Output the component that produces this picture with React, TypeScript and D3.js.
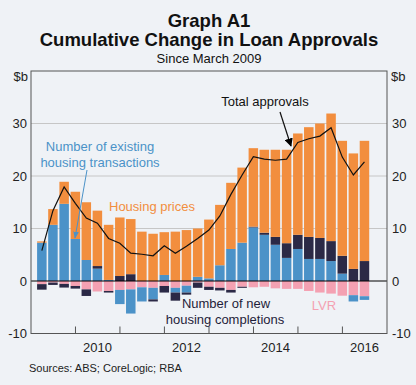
import React from 'react';
import * as d3 from 'd3';

// quarter ends, March 2009 to June 2016
const quarters = [
  '2009-03', '2009-06', '2009-09', '2009-12',
  '2010-03', '2010-06', '2010-09', '2010-12',
  '2011-03', '2011-06', '2011-09', '2011-12',
  '2012-03', '2012-06', '2012-09', '2012-12',
  '2013-03', '2013-06', '2013-09', '2013-12',
  '2014-03', '2014-06', '2014-09', '2014-12',
  '2015-03', '2015-06', '2015-09', '2015-12',
  '2016-03', '2016-06',
];

const existingTransactions = [7.3, 10.7, 14.7, 8.0, 4.0, 2.35, 0.2, -2.7, -4.6, -2.7, -2.2, 1.15, -0.9, -1.3, 0.8, 0.5, 3.0, 6.1, 7.3, 10.2, 8.8, 6.9, 4.4, 6.1, 4.2, 4.2, 3.8, 1.4, -1.2, -0.7];
const newCompletions = [-1.05, -0.45, -0.7, -0.5, -1.25, 0.5, -0.3, 0.95, 1.3, 0, -0.4, -1.25, -1.55, -0.4, -1.0, -0.6, -0.5, -0.5, -0.2, 0.15, 0.4, 1.5, 2.8, 2.7, 4.2, 4.0, 3.8, 3.4, 2.3, 3.8];
const housingPrices = [0.25, 3.0, 4.2, 9.0, 11.0, 10.55, 10.5, 11.15, 10.5, 9.4, 9.0, 8.15, 9.4, 9.7, 9.2, 11.2, 11.5, 12.6, 14.3, 14.95, 15.8, 16.6, 17.8, 19.3, 20.9, 21.8, 24.3, 21.9, 22.0, 22.9];
const lvr = [-0.6, -0.3, -0.55, -0.95, -1.6, -2.0, -1.9, -1.7, -1.6, -1.2, -1.3, -0.95, -1.3, -0.9, -0.3, -1.1, -1.3, -1.7, -1.1, -1.2, -1.1, -1.4, -1.5, -1.5, -1.9, -2.2, -2.4, -2.8, -2.7, -2.9];
const totalApprovals = [5.8, 13.4, 17.9, 14.8, 12.0, 11.0, 8.1, 7.2, 5.3, 5.1, 4.8, 6.7, 5.3, 6.6, 8.1, 9.7, 12.4, 16.5, 20.2, 23.7, 23.2, 23.0, 23.2, 26.4, 27.1, 27.6, 29.2, 23.6, 20.2, 22.7];

const yTicks = [-10, 0, 10, 20, 30];
const yearLabels = [2010, 2012, 2014, 2016];

const colors = {
  blue: '#4b92c8',
  orange: '#f28e3e',
  navy: '#2b2946',
  pink: '#f4a1b2',
};

const W = 416;
const H = 385;
const left = 31;
const right = 387;
const top = 71;
const bottom = 333.5;
const font = 'Arial, "Liberation Sans", sans-serif';
const bg = '#eff2f6';

const parseQ = (q: string) => {
  const [y, m] = q.split('-').map(Number);
  return new Date(y, m, 0); // last day of the quarter month
};

const x = d3.scaleTime()
  .domain([new Date(2009, 0, 1), new Date(2017, 0, 1)])
  .range([left, right]);

const y = d3.scaleLinear().domain([-10, 40]).range([bottom, top]);

const barW = 9.5;

type Seg = { key: string; y0: number; y1: number; color: string };

const segments: Seg[][] = quarters.map((q, i) => {
  const vals: Record<string, number> = {
    blue: existingTransactions[i],
    navy: newCompletions[i],
    orange: housingPrices[i],
    pink: lvr[i],
  };
  const segs: Seg[] = [];
  let pos = 0;
  ['blue', 'navy', 'orange', 'pink'].forEach(k => {
    const v = vals[k];
    if (v > 0) {
      segs.push({ key: k, y0: pos, y1: pos + v, color: (colors as any)[k] });
      pos += v;
    }
  });
  let neg = 0;
  ['pink', 'blue', 'navy', 'orange'].forEach(k => {
    const v = vals[k];
    if (v < 0) {
      segs.push({ key: k, y0: neg + v, y1: neg, color: (colors as any)[k] });
      neg += v;
    }
  });
  return segs;
});

const line = d3.line<number>()
  .x((_, i) => x(parseQ(quarters[i])))
  .y(d => y(d));

const App = () => {
  const yearTicks = d3.range(2010, 2017).map(yr => new Date(yr, 0, 1));

  return (
    <svg width={W} height={H} style={{ position: 'absolute', left: 0, top: 0 }} fontFamily={font}>
      <defs>
        <marker id="arrBlack" viewBox="0 0 10 10" refX="9" refY="5" markerWidth="7" markerHeight="7" orient="auto">
          <path d="M0,0 L10,5 L0,10 z" fill="#000" />
        </marker>
        <marker id="arrBlue" viewBox="0 0 10 10" refX="9" refY="5" markerWidth="7" markerHeight="7" orient="auto">
          <path d="M0,1 L10,5 L0,9 z" fill={colors.blue} />
        </marker>
      </defs>
      <rect width={W} height={H} fill={bg} />

      {/* titles */}
      <text x={209} y={27} textAnchor="middle" fontSize={18.5} fontWeight="bold" fill="#111">Graph A1</text>
      <text x={209} y={46} textAnchor="middle" fontSize={18.5} fontWeight="bold" fill="#111">Cumulative Change in Loan Approvals</text>
      <text x={209} y={63} textAnchor="middle" fontSize={13} fill="#111">Since March 2009</text>

      {/* gridlines */}
      {yTicks.filter(t => t > 0).map(t => (
        <line key={t} x1={left} x2={right} y1={y(t)} y2={y(t)} stroke="#c6c6c6" strokeWidth={1} />
      ))}

      {/* bars */}
      {segments.map((segs, i) => (
        <g key={quarters[i]}>
          {segs.map(s => (
            <rect
              key={s.key}
              x={x(parseQ(quarters[i])) - barW / 2}
              y={y(s.y1)}
              width={barW}
              height={y(s.y0) - y(s.y1)}
              fill={s.color}
            />
          ))}
        </g>
      ))}

      {/* zero line */}
      <line x1={left} x2={right} y1={y(0)} y2={y(0)} stroke="#000" strokeWidth={1} />

      {/* total approvals */}
      <path d={line(totalApprovals) || ''} fill="none" stroke="#111" strokeWidth={1.2} />

      {/* frame */}
      <rect x={left} y={top} width={right - left} height={bottom - top} fill="none" stroke="#555" strokeWidth={1} />

      {/* x ticks */}
      {yearTicks.map(d => (
        <line key={d.getFullYear()} x1={x(d)} x2={x(d)} y1={bottom} y2={bottom - 7} stroke="#555" strokeWidth={1} />
      ))}
      {yearLabels.map(yr => (
        <text key={yr} x={x(new Date(yr, 6, 1))} y={352} textAnchor="middle" fontSize={13} fill="#222">{yr}</text>
      ))}

      {/* y axis labels */}
      <text x={28} y={81} textAnchor="end" fontSize={13} fill="#222">$b</text>
      <text x={391} y={81} textAnchor="start" fontSize={13} fill="#222">$b</text>
      {yTicks.map(t => (
        <g key={t}>
          <text x={27} y={y(t) + 4.5} textAnchor="end" fontSize={13} fill="#222">{t}</text>
          <text x={392} y={y(t) + 4.5} textAnchor="start" fontSize={13} fill="#222">{t}</text>
        </g>
      ))}

      {/* annotations */}
      <text x={265} y={106} textAnchor="middle" fontSize={13} fill="#111">Total approvals</text>
      <line x1={280} y1={112} x2={291} y2={146} stroke="#111" strokeWidth={1.2} markerEnd="url(#arrBlack)" />

      <text x={100} y={151} textAnchor="middle" fontSize={13} fill={colors.blue}>Number of existing</text>
      <text x={100} y={167} textAnchor="middle" fontSize={13} fill={colors.blue}>housing transactions</text>
      <line x1={87} y1={170} x2={75} y2={238} stroke={colors.blue} strokeWidth={1} markerEnd="url(#arrBlue)" />

      <text x={152} y={211} textAnchor="middle" fontSize={13} fill={colors.orange}>Housing prices</text>

      <text x={226} y={308} textAnchor="middle" fontSize={13} fill="#1f1d3a">Number of new</text>
      <text x={225} y={324} textAnchor="middle" fontSize={13} fill="#1f1d3a">housing completions</text>

      <text x={324} y={310} textAnchor="middle" fontSize={13} fill={colors.pink}>LVR</text>

      <text x={29} y={372} fontSize={11} fill="#222">Sources: ABS; CoreLogic; RBA</text>
    </svg>
  );
};

export default App;
